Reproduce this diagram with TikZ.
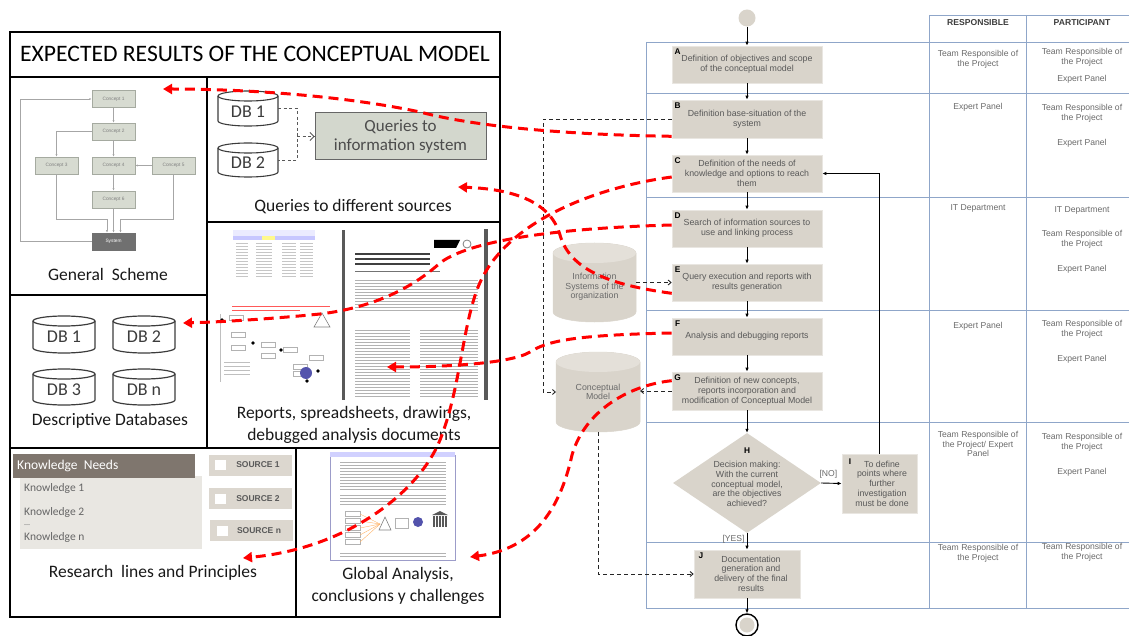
\documentclass[tikz,border=0pt]{standalone}
\usepackage{fontspec}
\setmainfont{Liberation Sans}
\newfontfamily\carl{Carlito}
\usetikzlibrary{shapes.geometric,arrows.meta,calc}
\definecolor{boxf}{HTML}{D9D4CB}
\definecolor{boxd}{HTML}{E9E6E1}
\definecolor{topc}{HTML}{E4E0D9}
\definecolor{ftxt}{HTML}{595959}
\definecolor{tline}{HTML}{8FA6C9}
\definecolor{rtxt}{HTML}{6A6A6A}
\definecolor{cfill}{HTML}{D7DBD1}
\definecolor{cdraw}{HTML}{A5AAA0}
\definecolor{qfill}{HTML}{D3D7CD}
\definecolor{knbar}{HTML}{7F766E}
\definecolor{knpan}{HTML}{E9E7E2}
\definecolor{srcf}{HTML}{DCD7CF}
\definecolor{dbtxt}{HTML}{3C3C3C}
\definecolor{sysf}{HTML}{707070}
\newcommand\mycyl[9]{%
 \node[inner sep=0pt, outer sep=0pt, minimum width={2*#5pt}, minimum height={(#4-#3)*1pt}] (#1) at (#2,{(#3+#4)/2}) {};
 \filldraw[fill=#7, draw=#8, line width=#9] ([yshift=-#6pt]#1.north west) -- ([yshift=#6pt]#1.south west) arc[start angle=180, end angle=360, x radius=#5pt, y radius=#6pt] -- ([yshift=-#6pt]#1.north east) arc[start angle=0, end angle=180, x radius=#5pt, y radius=#6pt] -- cycle;
 \draw[draw=#8, line width=#9] ([yshift=-#6pt]#1.north west) arc[start angle=180, end angle=360, x radius=#5pt, y radius=#6pt];
}
\begin{document}
\begin{tikzpicture}[x=1pt,y=-1pt,
 fb/.style={draw=boxd, fill=boxf, line width=0.6pt, minimum width=150pt, inner sep=0pt, text=ftxt, font=\fontsize{8.8}{9.8}\selectfont, align=center},
 lab/.style={font=\bfseries\fontsize{8.3}{9}\selectfont, text=black, inner sep=0pt},
 ftx/.style={text=ftxt, font=\fontsize{8.8}{9.7}\selectfont, align=center, inner sep=0pt},
 flow/.style={-{Latex[length=4pt,width=3.5pt]}, line width=0.9pt, black},
 bdash/.style={dash pattern=on 4pt off 3pt, line width=0.9pt, -{Straight Barb[length=3pt,width=5pt]}, black!85},
 rdash/.style={red, line width=3pt, dash pattern=on 10pt off 6pt, -{Triangle[length=9pt,width=10pt]}},
 tl/.style={tline, line width=0.9pt},
 rt/.style={text=rtxt, font=\fontsize{8.6}{9.8}\selectfont, align=center, inner sep=0pt},
 hd/.style={text=dbtxt, font=\bfseries\fontsize{8.6}{9}\selectfont, inner sep=0pt},
 panel/.style={line width=2.4pt, black},
 big/.style={font=\carl\fontsize{17.5}{22}\selectfont, inner sep=0pt, align=center, text=black!90},
 dbl/.style={font=\carl\fontsize{18}{20}\selectfont, inner sep=0pt, text=dbtxt},
 cbox/.style={draw=cdraw, fill=cfill, line width=0.5pt, minimum width=43pt, minimum height=17pt, inner sep=0pt, font=\fontsize{4.8}{5}\selectfont, text=gray},
 cl/.style={gray!70, line width=0.6pt, -{Latex[length=2.5pt,width=2pt]}},
 src/.style={fill=srcf, minimum width=83pt, minimum height=21pt, inner sep=0pt},
 srct/.style={font=\bfseries\fontsize{8.5}{9}\selectfont, text=black!65, inner sep=0pt},
 knt/.style={font=\carl\fontsize{11.5}{12}\selectfont, text=black!60, inner sep=0pt, anchor=west},
 gl/.style={gray!60, line width=0.6pt}
]
\useasboundingbox (0,0) rectangle (1129,636);

% ================= swimlane table =================
\draw[tl] (646,42) -- (1129,42);
\draw[tl] (929,15) -- (1129,15);
\draw[tl] (646,42) -- (646,608);
\draw[tl] (929,15) -- (929,608);
\draw[tl] (1026,15) -- (1026,608);
\foreach \yy in {93,197,310,422,542,608} \draw[tl] (646,\yy) -- (1129,\yy);
\node[hd] (hr) at (978,23) {RESPONSIBLE};
\node[hd] (hp) at (1082,23) {PARTICIPANT};

\node[rt] (ra) at (978,59.5) {Team Responsible of\\the Project};
\node[rt] (pa1) at (1082,57) {Team Responsible of\\the Project};
\node[rt] (pa2) at (1082,79) {Expert Panel};
\node[rt] (rb) at (978,107) {Expert Panel};
\node[rt] (pb1) at (1082,113) {Team Responsible of\\the Project};
\node[rt] (pb2) at (1082,143) {Expert Panel};
\node[rt] (rd) at (978,208) {IT Department};
\node[rt] (pd1) at (1082,210) {IT Department};
\node[rt] (pd2) at (1082,239) {Team Responsible of\\the Project};
\node[rt] (pd3) at (1082,269) {Expert Panel};
\node[rt] (rf) at (978,326) {Expert Panel};
\node[rt] (pf1) at (1082,329) {Team Responsible of\\the Project};
\node[rt] (pf2) at (1082,359) {Expert Panel};
\node[rt] (rh) at (978,444) {Team Responsible of\\the Project/ Expert\\Panel};
\node[rt] (ph1) at (1082,442) {Team Responsible of\\the Project};
\node[rt] (ph2) at (1082,472) {Expert Panel};
\node[rt] (rj) at (978,553.5) {Team Responsible of\\the Project};
\node[rt] (pj) at (1082,552.5) {Team Responsible of\\the Project};

% ================= flowchart =================
\node[circle, fill=boxf, minimum size=17pt, inner sep=0pt] (start) at (747,18) {};
\node[fb, minimum height=37pt] (A) at (747,64.5) {Definition of objectives and scope\\of the conceptual model};
\node[fb, minimum height=38pt] (B) at (747,119) {Definition base-situation of the\\system};
\node[fb, minimum height=37pt] (C) at (747,173.5) {Definition of the needs of\\knowledge and options to reach\\them};
\node[fb, minimum height=37pt] (D) at (747,228.5) {Search of information sources to\\use and linking process};
\node[fb, minimum height=37pt] (E) at (747,282.5) {Query execution and reports with\\results generation};
\node[fb, minimum height=37pt] (F) at (747,336.5) {Analysis and debugging reports};
\node[fb, minimum height=38pt] (G) at (747,391) {Definition of new concepts,\\reports incorporation and\\modification of Conceptual Model};
\node[diamond, fill=boxf, minimum width=148pt, minimum height=100pt, inner sep=0pt] (H) at (747,483) {};
\node[ftx] (Ht) at (747,484) {Decision making:\\With the current\\conceptual model,\\are the objectives\\achieved?};
\node[fb, minimum width=75pt, minimum height=59pt] (I) at (879.5,483.5) {};
\node[ftx] (It) at (882,483.5) {To define\\points where\\further\\investigation\\must be done};
\node[fb, minimum width=106pt, minimum height=48pt] (J) at (747,574) {};
\node[ftx] (Jt) at (751,573.5) {Documentation\\generation and\\delivery of the final\\results};
\node[circle, draw=black, line width=1.4pt, fill=white, minimum size=22pt, inner sep=0pt] (end) at (747,625) {};
\fill[boxf] (end.center) circle (7.5pt);

\foreach \n in {A,B,C,D,E,F,G} \node[lab] (l\n) at ([xshift=6pt,yshift=-6pt]\n.north west) {\n};
\node[lab] (lH) at (747,451) {H};
\node[lab] (lI) at (850,462) {I};
\node[lab] (lJ) at (701,556) {J};

\draw[flow] (start) -- (A);
\draw[flow] (A) -- (B);
\draw[flow] (B) -- (C);
\draw[flow] (C) -- (D);
\draw[flow] (D) -- (E);
\draw[flow] (E) -- (F);
\draw[flow] (F) -- (G);
\draw[flow] (G) -- (H);
\draw[flow] (H) -- node[pos=0.35, left, rt, xshift=-2pt] (yes) {[YES]} (J);
\draw[flow] (H.east) -- node[above, rt, yshift=4pt, pos=0.35] (no) {[NO]} (I.west);
\draw[flow] (I.north) |- (C.east);
\draw[flow] (J) -- (end);

% cylinders in flowchart
\mycyl{is}{594.5}{243}{322}{41.5}{10}{boxf}{boxf}{0.5pt}
\fill[topc] ([yshift=-10pt]is.north) ellipse [x radius=41.5pt, y radius=10pt];
\node[ftx, text=rtxt] (ist) at (594.5,287) {Information\\Systems of the\\organization};
\mycyl{cm}{598}{352}{432}{42}{10}{boxf}{boxf}{0.5pt}
\fill[topc] ([yshift=-10pt]cm.north) ellipse [x radius=42pt, y radius=10pt];
\node[ftx, text=rtxt] (cmt) at (598,392) {Conceptual\\Model};

\draw[bdash] (B.west) -| ($(cm.west)+(-13,0)$) -- (cm.west);
\draw[bdash] (is.east |- E.west) -- (E.west);
\draw[bdash] (G.west) -- (cm.east |- G.west);
\draw[bdash] (cm.south) |- (J.west);

% ================= left panel =================
\draw[panel] (10,32) rectangle (500,617);
\draw[panel] (10,77) -- (500,77);
\draw[panel] (207,77) -- (207,448);
\draw[panel] (207,222) -- (500,222);
\draw[panel] (10,295) -- (207,295);
\draw[panel] (10,448) -- (500,448);
\draw[panel] (296,448) -- (296,617);
\node[font=\carl\fontsize{23.6}{26}\selectfont, inner sep=0pt] (title) at (255,54) {EXPECTED RESULTS OF THE CONCEPTUAL MODEL};

% General scheme
\node[cbox] (c1) at (113.5,99) {Concept 1};
\node[cbox] (c2) at (113.5,131.5) {Concept 2};
\node[cbox] (c3) at (56.5,165.5) {Concept 3};
\node[cbox] (c4) at (113.5,165.5) {Concept 4};
\node[cbox] (c5) at (173.5,165.5) {Concept 5};
\node[cbox] (c6) at (113.5,199.5) {Concept 6};
\node[cbox, fill=sysf, draw=sysf, text=white] (sys) at (113.5,241.5) {System};
\draw[cl] (sys.west) -- (20,241.5) |- (c1.west);
\draw[cl] (c1) -- (c2);
\draw[cl] (c2.west) -| (c3.north);
\draw[cl] (c2) -- (c4);
\draw[cl] (c5) -- (c4);
\draw[cl] (c4) -- (c6);
\draw[cl] (c6) -- (sys);
\draw[cl] (c3.south) |- ($(sys.north)+(-6.5,-13)$) -- ([xshift=-6.5pt]sys.north);
\draw[cl] (c5.south) |- ($(sys.north)+(7,-13)$) -- ([xshift=7pt]sys.north);
\node[big] (gs) at (108,274) {General\ \ Scheme};

% Queries
\mycyl{qd1}{248}{91}{126}{30}{5}{white}{dbtxt}{1.1pt}
\node[dbl] (qd1t) at (248,112) {DB 1};
\mycyl{qd2}{248}{143}{177}{30}{5}{white}{dbtxt}{1.1pt}
\node[dbl] (qd2t) at (248,163) {DB 2};
\node[draw=black!60, fill=qfill, line width=1pt, minimum width=171pt, minimum height=47pt, inner sep=0pt, align=center, font=\carl\fontsize{17}{19}\selectfont, text=black!70] (qbox) at (400.5,136.5) {Queries to\\information system};
\coordinate (qj) at (297,136.5);
\draw[black!65, line width=0.8pt, dash pattern=on 3pt off 2.5pt] (qd1.east) -- (qd1.east -| qj) -- (qd2.east -| qj) -- (qd2.east);
\draw[black!65, line width=0.8pt, dash pattern=on 3pt off 2.5pt, -{Straight Barb[length=4pt,width=8pt]}] (qj) -- (qbox.west);
\node[big] (qs) at (353,207) {Queries\ to\ different\ sources};

% Reports placeholders: spreadsheet
\fill[blue!8] (233,230) rectangle (315,236);
\fill[blue!22] (233,236) rectangle (315,240);
\fill[yellow!45] (262,236) rectangle (275,240);
\foreach \yy in {243,246,...,276} \draw[gray!45, line width=0.7pt] (236,\yy) -- (248,\yy) (256,\yy) -- (272,\yy) (282,\yy) -- (296,\yy) (300,\yy) -- (313,\yy);
% document
\fill[black!65] (342,230) rectangle (345,400);
\fill[black!65] (484,229) rectangle (488,400);
\fill[black] (434,240) -- (460,240) -- (456,248) -- (434,248) -- cycle;
\draw[gray, line width=0.8pt] (467,244) circle (4pt);
\foreach \yy in {254,259,264} \draw[black!75, line width=1.5pt] (355,\yy) -- (430,\yy);
\draw[black!55, line width=1pt] (355,272) -- (440,272);
\foreach \yy in {280,283,...,312} \draw[gl] (355,\yy) -- (478,\yy);
\foreach \yy in {330,333,...,398} \draw[gl] (355,\yy) -- (410,\yy) (420,\yy) -- (478,\yy);
% drawing
\draw[red!65, line width=0.8pt] (232,306) -- (330,306) (232,310) -- (300,310);
\draw[gray!50, line width=0.5pt] (220,314) -- (220,382);
\foreach \xx/\yy in {236/318,238/335,238/348,268/345,268/356,290/350,300/367,300/374,316/358}
  \draw[gray!60, line width=0.5pt] (\xx-7,\yy-2.5) rectangle (\xx+7,\yy+2.5);
\foreach \xx/\yy in {222/320,253/343,281/350,318/371,307/381}
  \fill[black] (\xx,\yy) circle (1.8pt);
\fill[blue!35!gray] (306,373) circle (6pt);
\draw[gray, line width=0.6pt] (322,313) -- (314,327) -- (330,327) -- cycle;
\foreach \yy in {362,366,370,374} \draw[gray!50, line width=0.5pt] (224,\yy) -- (250,\yy);
\node[big] (rp) at (354,425) {Reports,\ spreadsheets,\ drawings,\\debugged\ analysis\ documents};

% Descriptive databases
\mycyl{db1}{64}{316}{353}{31}{5}{white}{dbtxt}{1.2pt}
\node[dbl] (db1t) at (64,337) {DB 1};
\mycyl{db2}{144}{316}{353}{31}{5}{white}{dbtxt}{1.2pt}
\node[dbl] (db2t) at (144,337) {DB 2};
\mycyl{db3}{64}{369}{405}{31}{5}{white}{dbtxt}{1.2pt}
\node[dbl] (db3t) at (64,390) {DB 3};
\mycyl{dbn}{144}{369}{405}{31}{5}{white}{dbtxt}{1.2pt}
\node[dbl] (dbnt) at (144,390) {DB n};
\node[big] (dd) at (110,421) {Descriptive\ Databases};

% Research lines
\fill[knpan] (20,476) rectangle (202,549);
\fill[knbar] (13,454) rectangle (195,478);
\node[font=\carl\fontsize{13.5}{14}\selectfont, text=white, inner sep=0pt, anchor=west] (kn) at (17,466) {Knowledge\ \ Needs};
\node[knt] (k1) at (24,488) {Knowledge 1};
\node[knt] (k2) at (24,512) {Knowledge 2};
\node[knt, font=\carl\fontsize{8}{8}\selectfont] (kd) at (24,525) {...};
\node[knt] (kk) at (24,537) {Knowledge n};
\node[src] (s1) at (250,465) {};
\node[src] (s2) at (250,498.5) {};
\node[src] (sn) at (251.5,530.5) {};
\foreach \s in {s1,s2,sn} \fill[white] ([xshift=7pt,yshift=5pt]\s.west) rectangle ([xshift=18pt,yshift=-5pt]\s.west);
\node[srct] (s1t) at (258,465) {SOURCE 1};
\node[srct] (s2t) at (258,499) {SOURCE 2};
\node[srct] (snt) at (259,531) {SOURCE n};
\node[big] (rl) at (153,573) {Research\ \ lines\ and\ Principles};

% Global analysis placeholder
\draw[blue!30!gray!60, line width=0.8pt] (330,455) rectangle (455,560);
\fill[blue!18] (330,452) rectangle (455,457);
\foreach \yy in {462,465,...,489} \draw[gl] (340,\yy) -- (446,\yy);
\foreach \yy in {495,498,501,504} \draw[gl] (340,\yy) -- (446,\yy);
\foreach \yy in {514,521,528,535,542} \draw[gray!60, line width=0.5pt] (345,\yy-2.5) rectangle (360,\yy+2.5);
\foreach \yy in {514,521,528,535,542} \draw[orange!60, line width=0.4pt] (360,\yy) -- (380,524);
\draw[gray, line width=0.6pt] (385,517) -- (379,530) -- (391,530) -- cycle;
\draw[gray!60, line width=0.5pt] (395,518) rectangle (408,528);
\fill[blue!35!gray] (418,522) circle (5pt);
\fill[gray!70!black] (432,515) -- (440,511) -- (448,515) -- cycle;
\foreach \xx in {433,436,...,446} \fill[gray!70!black] (\xx,516) rectangle (\xx+1.5,527);
\foreach \yy in {553,556} \draw[gl] (340,\yy) -- (446,\yy);
\node[big] (ga) at (398,586) {Global\ Analysis,\\conclusions\ y\ challenges};

% ================= red dashed connectors =================
\coordinate (tgs) at (163,89);
\coordinate (tqs) at (458,187);
\coordinate (trp) at (387,367);
\coordinate (tdb) at (183,323);
\coordinate (trl) at (243,558);
\coordinate (tga) at (470,557);
\draw[rdash] ([yshift=2pt]B.south west) .. controls (580,135) and (480,128) .. (420,112) .. controls (340,95) and (240,89) .. (tgs);
\draw[rdash] ([yshift=-3.5pt]C.west) .. controls (590,188) and (500,225) .. (477,290) .. controls (462,330) and (460,390) .. (440,440) .. controls (420,490) and (350,548) .. (trl);
\draw[rdash] ([yshift=3.5pt]D.west) .. controls (560,228) and (470,240) .. (440,263) .. controls (410,290) and (370,308) .. (320,314) .. controls (270,319) and (220,322) .. (tdb);
\draw[rdash] ([yshift=8pt]E.south west) .. controls (610,285) and (570,270) .. (560,235) .. controls (550,200) and (510,189) .. (tqs);
\draw[rdash] ([yshift=3.5pt]F.west) .. controls (580,335) and (548,340) .. (530,352) .. controls (512,363) and (450,367) .. (trp);
\draw[rdash] ([yshift=-9pt]G.north west) .. controls (630,385) and (585,410) .. (572,455) .. controls (562,500) and (540,548) .. (tga);
\end{tikzpicture}
\end{document}
